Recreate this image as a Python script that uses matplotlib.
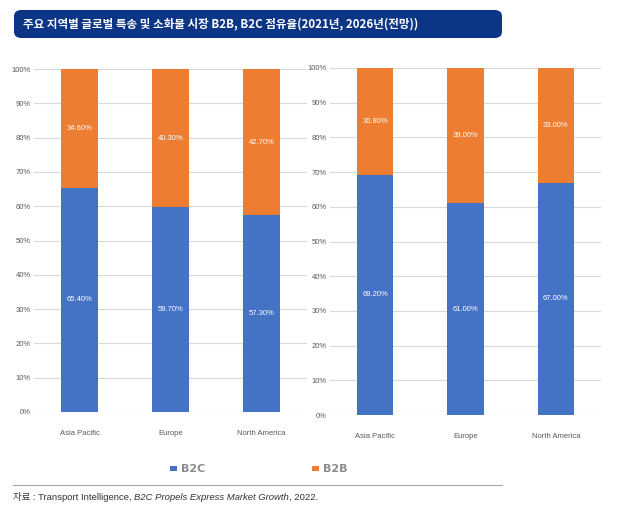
import matplotlib
matplotlib.use("Agg")
import matplotlib.pyplot as plt
from matplotlib.patches import FancyBboxPatch, Rectangle
from matplotlib.lines import Line2D
import numpy as np

# %%
regions = ["Asia Pacific", "Europe", "North America"]
b2c_2021 = [65.4, 59.7, 57.3]
b2b_2021 = [34.6, 40.3, 42.7]
b2c_2026 = [69.2, 61.0, 67.0]
b2b_2026 = [30.8, 39.0, 33.0]
yticks = [0, 10, 20, 30, 40, 50, 60, 70, 80, 90, 100]

title = "주요 지역별 글로벌 특송 및 소화물 시장 B2B, B2C 점유율(2021년, 2026년(전망))"

BLUE = "#4472C4"
ORANGE = "#ED7D31"
GRID = "#D9D9D9"
TICK = "#595959"
NARROW = ["Liberation Sans Narrow", "Liberation Sans", "DejaVu Sans"]
KR = ["Noto Sans CJK KR", "DejaVu Sans"]
LAT_KR = ["Liberation Sans", "Noto Sans CJK KR", "DejaVu Sans"]

plt.rcParams["font.family"] = KR

fig = plt.figure(figsize=(6.28, 5.30), dpi=100)
W, H = 628, 530


def box(x0, y0, x1, y1):
    # pixel coords (top-left origin) -> figure fraction rect
    return [x0 / W, 1 - y1 / H, (x1 - x0) / W, (y1 - y0) / H]


def draw_panel(ax, b2c, b2b):
    x = np.arange(len(regions))
    ax.bar(x, b2c, width=0.4, color=BLUE, zorder=3)
    ax.bar(x, b2b, width=0.4, bottom=b2c, color=ORANGE, zorder=3)
    for xi, c, b in zip(x, b2c, b2b):
        ax.text(xi, c / 2, f"{c:.2f}%", ha="center", va="center",
                color="white", fontsize=5.5, family=NARROW, zorder=4)
        ax.text(xi, c + b / 2, f"{b:.2f}%", ha="center", va="center",
                color="white", fontsize=5.5, family=NARROW, zorder=4)
    ax.set_xlim(-0.5, 2.5)
    ax.set_ylim(0, 100)
    ax.set_yticks(yticks)
    ax.set_yticklabels([f"{t}%" for t in yticks], family=NARROW,
                       fontsize=5.5, color=TICK)
    ax.set_xticks(x)
    ax.set_xticklabels(regions, family=NARROW, fontsize=5.5, color=TICK)
    ax.tick_params(axis="y", length=0, pad=2.5)
    ax.tick_params(axis="x", length=0, pad=13)
    ax.grid(axis="y", color=GRID, linewidth=0.8, zorder=0)
    for s in ax.spines.values():
        s.set_visible(False)


ax1 = fig.add_axes(box(34, 69, 307, 412))
draw_panel(ax1, b2c_2021, b2b_2021)
ax2 = fig.add_axes(box(330, 68, 601, 415))
draw_panel(ax2, b2c_2026, b2b_2026)

# title banner
fig.patches.append(FancyBboxPatch((14 / W, 1 - 38 / H), 488 / W, 28 / H,
                                  boxstyle="round,pad=0,rounding_size=0.012",
                                  transform=fig.transFigure,
                                  facecolor="#0D3586", edgecolor="none"))
fig.text(23 / W, 1 - 24 / H, title, color="white", fontsize=8.3,
         weight="bold", va="center", ha="left")

# legend
for x0, col, lab in [(170, BLUE, "B2C"), (312, ORANGE, "B2B")]:
    fig.patches.append(Rectangle((x0 / W, 1 - 471 / H), 7 / W, 5 / H,
                                 transform=fig.transFigure, facecolor=col,
                                 edgecolor="none"))
    fig.text((x0 + 11) / W, 1 - 468.5 / H, lab, fontsize=8, weight="bold",
             color="#8C8C8C", va="center", ha="left", family=["DejaVu Sans"])

fig.add_artist(Line2D([13 / W, 502 / W], [1 - 485 / H, 1 - 485 / H],
                      transform=fig.transFigure, color="#A6A6A6", linewidth=0.8))

# source line, pieced together to mix italic
renderer = fig.canvas.get_renderer()
xpos = 13 / W
ypos = 1 - 497 / H
for part, style in [("자료 : Transport Intelligence, ", "normal"),
                    ("B2C Propels Express Market Growth", "italic"),
                    (", 2022.", "normal")]:
    t = fig.text(xpos, ypos, part, fontsize=6.8, style=style, color="#333333",
                 va="center", ha="left", family=LAT_KR)
    bb = t.get_window_extent(renderer)
    xpos += bb.width / fig.bbox.width

fig.savefig("out.png", dpi=100)
